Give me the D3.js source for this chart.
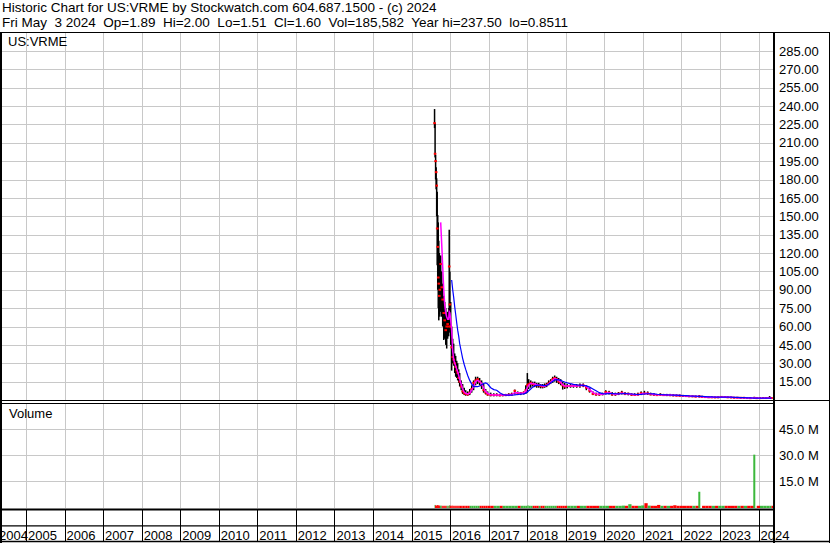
<!DOCTYPE html>
<html>
<head>
<meta charset="utf-8">
<script src="https://cdn.jsdelivr.net/npm/d3@7/dist/d3.min.js"></script>
<style>
html,body{margin:0;padding:0;background:#fff;}
svg{display:block;}
text{font-family:"Liberation Sans",Arial,Helvetica,sans-serif;fill:#000;}
</style>
</head>
<body>
<svg id="chart" width="830" height="543"></svg>
<script>
const title = "Historic Chart for US:VRME by Stockwatch.com 604.687.1500 - (c) 2024";
const subtitle = "Fri May  3 2024  Op=1.89  Hi=2.00  Lo=1.51  Cl=1.60  Vol=185,582  Year hi=237.50  lo=0.8511";
const symbol = "US:VRME";
const volumeLabel = "Volume";

const dates = [
"2015-08-07","2015-08-12","2015-08-17","2015-08-22","2015-08-27","2015-09-01","2015-09-06","2015-09-11","2015-09-16","2015-09-21",
"2015-09-26","2015-10-04","2015-10-14","2015-10-23","2015-11-02","2015-11-11","2015-11-21","2015-11-30","2015-12-09","2015-12-19",
"2015-12-24","2015-12-30","2016-01-07","2016-01-16","2016-01-26","2016-02-04","2016-02-14","2016-02-23","2016-03-04","2016-03-13",
"2016-03-23","2016-04-01","2016-04-15","2016-04-29","2016-05-14","2016-05-28","2016-06-16","2016-07-05","2016-07-24","2016-08-11",
"2016-08-30","2016-09-18","2016-10-07","2016-10-26","2016-11-14","2016-12-03","2016-12-22","2017-01-20","2017-02-18","2017-03-18",
"2017-04-16","2017-05-14","2017-06-11","2017-07-10","2017-08-07","2017-09-05","2017-10-03","2017-10-31","2017-11-29","2017-12-18",
"2018-01-02","2018-01-15","2018-02-03","2018-02-22","2018-03-13","2018-04-01","2018-04-20","2018-05-08","2018-05-27","2018-06-15",
"2018-07-04","2018-07-23","2018-08-11","2018-08-30","2018-09-18","2018-10-07","2018-10-26","2018-11-14","2018-12-03","2018-12-22",
"2019-01-15","2019-02-15","2019-03-15","2019-04-15","2019-05-15","2019-06-15","2019-07-15","2019-08-15","2019-09-15","2019-10-15",
"2019-11-15","2019-12-15","2020-01-15","2020-02-15","2020-03-15","2020-04-15","2020-05-15","2020-06-15","2020-07-15","2020-08-15",
"2020-09-15","2020-10-15","2020-11-15","2020-12-15","2021-01-15","2021-02-15","2021-03-15","2021-04-15","2021-05-15","2021-06-15",
"2021-07-15","2021-08-15","2021-09-15","2021-10-15","2021-11-15","2021-12-15","2022-01-15","2022-02-15","2022-03-15","2022-04-15",
"2022-05-15","2022-06-19","2022-07-15","2022-08-15","2022-09-15","2022-10-15","2022-11-15","2022-12-15","2023-01-15","2023-02-15",
"2023-03-15","2023-04-15","2023-05-15","2023-06-15","2023-07-15","2023-08-15","2023-09-15","2023-10-15","2023-11-22","2023-12-15",
"2024-01-15","2024-02-15","2024-03-15","2024-04-15","2024-05-03"
];
const high = [
237.5,226,200,190,181,170,151,145,130,120,
115,118,105,95,85,80,75,70,72,75,
139,105,80,60,50,46,38,36,32,30,
25,22,16,13,10,8,7,9,12,16,
19,19,18,16,13,9,7,6,5.5,5.5,
5,5,5,5.5,6,8.5,7,6.5,7,12,
22,17,16,15,15,14,14,13,13,13.5,
14,16,17,19,20,19,18,17,15,14,
13,13,13,13,13.5,13.5,12,10,7,6,
5.5,6,8,7.5,6.5,6,6.5,7.5,6.5,6,
5.5,5.5,6,7,7.5,7,6,5.5,5,5.5,
5,5,5,4.8,4.5,4.5,4.2,4,3.8,3.6,
3.5,4,3.5,3.2,3,2.8,2.8,2.8,3,3,
2.8,2.7,2.5,2.4,2.4,2.3,2.2,2.1,2.6,2,
2,2,2.1,3.2,2.0
];
const low = [
222,198,180,172,150,110,90,75,65,70,
68,72,68,60,49,50,45,42,50,52,
57,55,45,24,30,28,22,19,18,16,
14,11,8,5,4,3.5,3.5,4,6,8,
12,13,12,9,6,4.5,3.5,3,3,3,
3,3,3.2,3.2,3.5,4.5,4,4,4.5,5,
6,9,10,11,10.5,10,10,9.5,9.5,10,
10.5,12,13,14,15,14,13,12,8.5,9,
9.5,10,10,10,10,10.5,8,6,4,3.5,
3.5,3.8,4.5,4.5,3.5,3.5,4,4.5,4,3.8,
3.5,3.5,3.5,4,4.5,4.2,3.8,3.5,3.3,3.5,
3.3,3.2,3.2,3,3,2.8,2.6,2.5,2.4,2.3,
2.2,2,2,1.8,1.7,1.6,1.6,1.5,1.7,1.8,
1.6,1.5,1.4,1.4,1.3,1.3,1.2,1.1,1.0,1.0,
1.0,1.1,1.2,1.2,1.51
];
const close = [
226,201,195,186,175,140,125,100,95,85,
90,111,92,82,71,65,57,60,62,60,
109,78,60,43,35,33,30,27,24,22,
18,15,11,7,5.5,5,4.5,6,9,14,
16,17,15,12,8,6,4.5,4,4,4.2,
3.8,4,4,4.3,4.5,7.5,5,5.5,6,8,
12,13,14,13,12.5,12,12,11.4,11,11.4,
12.5,13.6,15,17,18,17,15,14,12,11,
11.4,11.4,11.8,11.4,12,12,10,7.5,5,4.5,
4.5,4.8,6.5,6,4.5,4.6,5.2,6,5,5.1,
4.3,4.1,4.5,5.6,5.3,5.4,4.6,4.3,4,4.3,
4,4,3.9,3.8,3.6,3.5,3.3,3.2,3,3,
2.8,3.0,2.5,2.4,2.2,2.2,2.1,2.2,2.5,2.4,
2.2,2.1,1.9,1.9,1.8,1.8,1.6,1.5,1.7,1.5,
1.5,1.6,1.6,1.7,1.6
];
const maShort = [
null,null,null,null,null,null,null,null,null,null,
null,145,127,109,90,78,71,68,66,66,
72,71,65,57,40,33,30,28,25,23,
20,17,13,9,6.5,5.4,5,5.5,8,11,
15,16,15,13.6,10,7,5.4,4.3,4,4,
4,4,4,4.1,4.4,6,6,5.5,5.7,7,
10,12,13.5,13.5,13,12.5,12,11.8,11.5,11.3,
12,13,14.5,16,17.5,17,16,14.5,12.5,11.5,
11.4,11.4,11.5,11.5,11.7,12,11,8.5,6,5,
4.6,4.7,5.5,6,5.3,4.7,5,5.6,5.4,5,
4.6,4.3,4.3,5,5.4,5.4,5,4.5,4.2,4.2,
4.1,4,4,3.9,3.7,3.6,3.4,3.3,3.1,3,
2.9,2.9,2.7,2.5,2.3,2.2,2.2,2.2,2.3,2.4,
2.3,2.2,2,1.9,1.9,1.8,1.7,1.6,1.6,1.6,
1.5,1.5,1.6,1.6,1.7
];
const maLong = [
null,null,null,null,null,null,null,null,null,null,
null,null,null,null,null,null,null,null,null,null,
null,null,null,98,90,84,76,70,63,57,
52,46,40,34,29,25,20,16,13,11,
11,11,11.4,12.5,13.5,14,13,10,8.5,8,
6,4.5,4,4,4,4.2,4.5,4.8,5,5.5,
6.5,7.5,9,10.5,11.5,12,12.2,12.2,12,11.8,
12,12.8,14,15.2,16.3,16.6,16.4,16,15.3,14.7,
14,13.3,12.8,12.4,12.2,12,11.5,10.5,9,7.5,
6,5.2,5,5.2,5.3,5.1,5,5.1,5.2,5.1,
4.9,4.7,4.5,4.6,4.9,5.1,5.1,5,4.7,4.5,
4.3,4.2,4.1,4,3.9,3.8,3.6,3.5,3.3,3.2,
3.1,3,2.9,2.8,2.6,2.5,2.4,2.3,2.3,2.3,
2.3,2.3,2.2,2.1,2,1.9,1.8,1.7,1.6,1.6,
1.6,1.5,1.5,1.6,1.6
];
// volume in millions of shares
const volume = [
1.2,0.9,0.8,0.7,0.9,1.1,0.9,0.8,0.7,0.8,
0.7,0.8,0.6,0.6,0.7,0.6,0.6,0.5,0.5,0.6,
1.0,0.7,0.6,0.8,0.6,0.5,0.5,0.5,0.4,0.5,
0.5,0.4,0.5,0.6,0.5,0.4,0.4,0.5,0.6,0.7,
0.6,0.5,0.5,0.5,0.4,0.4,0.4,0.4,0.4,0.4,
0.4,0.4,0.4,0.4,0.4,0.6,0.5,0.4,0.4,0.5,
0.9,0.6,0.5,0.5,0.4,0.4,0.4,0.4,0.4,0.4,
0.4,0.5,0.5,0.6,0.6,0.5,0.5,0.4,0.5,0.4,
0.4,0.4,0.4,0.4,0.4,0.4,0.5,0.5,0.6,0.5,
0.5,0.5,0.7,0.6,0.6,0.5,0.6,0.8,0.6,1.6,
0.7,0.6,0.7,0.9,2.2,0.8,0.7,0.6,1.2,0.6,
0.5,0.5,0.5,1.0,0.5,0.5,0.5,0.5,0.5,0.5,
0.5,8.8,0.6,0.5,0.5,0.5,0.5,0.5,0.6,0.5,
0.5,0.5,0.5,0.5,0.5,0.5,0.5,0.5,30.2,0.6,
0.5,0.5,0.5,0.6,0.19
];
const priceTicks = [15,30,45,60,75,90,105,120,135,150,165,180,195,210,225,240,255,270,285];
const volumeTicks = [15,30,45];
const years = [2004,2005,2006,2007,2008,2009,2010,2011,2012,2013,2014,2015,2016,2017,2018,2019,2020,2021,2022,2023,2024];

// ---------- layout ----------
const W = 830, H = 543;
const plotL = 2, plotR = 773;
const priceTop = 33, priceBot = 400;
const volTop = 404, volBot = 508;
const parse = d3.utcParse("%Y-%m-%d");
const T = dates.map(parse);
const n = T.length;
const x = d3.scaleUtc().domain([parse("2004-05-03"), parse("2024-05-03")]).range([0.4, 771.5]);
const yP = d3.scaleLinear().domain([0, 300]).range([400, 32.5]);
const yV = d3.scaleLinear().domain([0, 60]).range([507, 403]);
const crisp = v => Math.round(v) + 0.5;
const yearX = y => x(new Date(Date.UTC(y, 0, 1)));

const svg = d3.select("#chart");
svg.append("rect").attr("width", W).attr("height", H).attr("fill", "#fff");

const defs = svg.append("defs");
defs.append("clipPath").attr("id", "clipP").append("rect")
  .attr("x", plotL).attr("y", priceTop).attr("width", plotR - plotL).attr("height", priceBot - priceTop);
defs.append("clipPath").attr("id", "clipV").append("rect")
  .attr("x", plotL).attr("y", volTop).attr("width", plotR - plotL).attr("height", volBot - volTop);

// ---------- header ----------
svg.append("text").attr("x", 2).attr("y", 12).attr("font-size", 13.5).text(title);
svg.append("text").attr("x", 2).attr("y", 27).attr("font-size", 13.5)
  .attr("xml:space", "preserve").style("white-space", "pre").text(subtitle);

// ---------- grid ----------
const gridC = "#c8c8c8";
const gp = svg.append("g").attr("shape-rendering", "crispEdges").attr("stroke", gridC).attr("stroke-width", 1);
gp.selectAll("line.h").data(priceTicks).join("line").attr("class", "h")
  .attr("x1", plotL).attr("x2", plotR)
  .attr("y1", d => crisp(yP(d))).attr("y2", d => crisp(yP(d)));
gp.selectAll("line.hv").data(volumeTicks).join("line").attr("class", "hv")
  .attr("x1", plotL).attr("x2", plotR)
  .attr("y1", d => crisp(yV(d))).attr("y2", d => crisp(yV(d)));
const gridYears = years.filter(y => yearX(y) > plotL);
gp.selectAll("line.vp").data(gridYears).join("line").attr("class", "vp")
  .attr("x1", d => crisp(yearX(d))).attr("x2", d => crisp(yearX(d)))
  .attr("y1", priceTop).attr("y2", priceBot);
gp.selectAll("line.vv").data(gridYears).join("line").attr("class", "vv")
  .attr("x1", d => crisp(yearX(d))).attr("x2", d => crisp(yearX(d)))
  .attr("y1", volTop - 1).attr("y2", volBot);

// ---------- price marks ----------
const pg = svg.append("g").attr("clip-path", "url(#clipP)");
const idx = d3.range(n);
pg.selectAll("rect.bar").data(idx).join("rect").attr("class", "bar")
  .attr("x", i => x(T[i]) - 0.75).attr("width", 1.5)
  .attr("y", i => yP(high[i])).attr("height", i => Math.max(1, yP(low[i]) - yP(high[i])))
  .attr("fill", "#000");
pg.selectAll("rect.cl").data(idx).join("rect").attr("class", "cl")
  .attr("x", i => x(T[i]) - 1.3).attr("width", 2.6)
  .attr("y", i => yP(close[i]) - 1).attr("height", 2)
  .attr("fill", "#ff0000");
const lineFor = arr => d3.line()
  .defined(i => arr[i] != null)
  .x(i => x(T[i])).y(i => yP(arr[i]));
pg.append("path").attr("d", lineFor(maShort)(idx))
  .attr("fill", "none").attr("stroke", "#ff00ff").attr("stroke-width", 1.5);
pg.append("path").attr("d", lineFor(maLong)(idx))
  .attr("fill", "none").attr("stroke", "#0000ff").attr("stroke-width", 1.2);

// ---------- volume marks ----------
const vg = svg.append("g").attr("clip-path", "url(#clipV)");
vg.selectAll("rect.v").data(idx).join("rect").attr("class", "v")
  .attr("x", i => volume[i] > 3 ? x(T[i]) - 1 : x(T[i]))
  .attr("width", i => {
    const nx = i < n - 1 ? x(T[i + 1]) : plotR;
    return volume[i] > 3 ? 2 : Math.max(1, Math.min(nx - x(T[i]), 4));
  })
  .attr("y", i => Math.min(yV(volume[i]), yV(0) - 1.2))
  .attr("height", i => yV(0) + 1 - Math.min(yV(volume[i]), yV(0) - 1.2))
  .attr("fill", i => (i === 0 || close[i] >= close[i - 1]) ? "#3cb83c" : "#ff0000");

// ---------- frame lines ----------
const fr = svg.append("g").attr("stroke", "#000").attr("fill", "none");
const L = (x1, y1, x2, y2, w) => fr.append("line").attr("x1", x1).attr("y1", y1).attr("x2", x2).attr("y2", y2).attr("stroke-width", w);
L(0, 32.5, W, 32.5, 1.2);        // top of chart
L(1, 32, 1, H, 2);               // left border
L(774, 32, 774, H, 2);           // price/volume axis line
L(829.5, 32, 829.5, H, 1);       // right border
L(0, 400.5, W, 400.5, 1);        // bottom of price panel
L(0, 403.5, 774, 403.5, 1);      // top of volume panel
L(0, 509.5, 774, 509.5, 2);      // bottom of volume panel
L(0, 525.8, 774, 525.8, 1.3);    // between tick row and label row
L(0, 541.5, W, 541.5, 1.5);      // bottom border
fr.selectAll("line.yt").data(gridYears).join("line").attr("class", "yt")
  .attr("shape-rendering", "crispEdges").attr("stroke-width", 1)
  .attr("x1", d => crisp(yearX(d))).attr("x2", d => crisp(yearX(d)))
  .attr("y1", 510).attr("y2", 541);

// ---------- labels ----------
svg.append("text").attr("x", 8).attr("y", 46).attr("font-size", 13).text(symbol);
svg.append("text").attr("x", 9).attr("y", 418).attr("font-size", 13).text(volumeLabel);

const pa = svg.append("g").attr("transform", "translate(779,0)")
  .call(d3.axisRight(yP).tickValues(priceTicks).tickSize(0).tickPadding(0).tickFormat(d3.format(".2f")));
pa.select(".domain").remove();
pa.selectAll("text").attr("font-size", 13).attr("font-family", "Liberation Sans, Arial, sans-serif").attr("fill", "#000").attr("x", 0);

const va = svg.append("g").attr("transform", "translate(779,0)")
  .call(d3.axisRight(yV).tickValues(volumeTicks).tickSize(0).tickPadding(0).tickFormat(d => d3.format(".1f")(d) + " M"));
va.select(".domain").remove();
va.selectAll("text").attr("font-size", 13).attr("font-family", "Liberation Sans, Arial, sans-serif").attr("fill", "#000").attr("x", 0);

svg.append("g").selectAll("text").data(years).join("text")
  .attr("x", d => Math.max(yearX(d) + 2, -1)).attr("y", 539.5)
  .attr("font-size", 13).text(d => d);
</script>
</body>
</html>
